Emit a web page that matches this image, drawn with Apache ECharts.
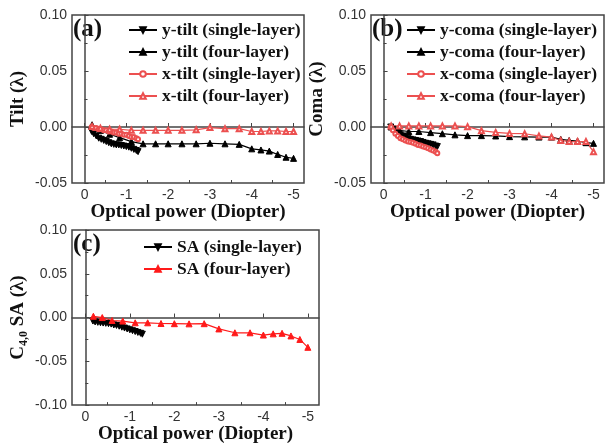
<!DOCTYPE html>
<html>
<head>
<meta charset="utf-8">
<script src="https://cdn.jsdelivr.net/npm/echarts@6/dist/echarts.min.js"></script>
<style>
  html, body { margin: 0; padding: 0; background: #fff; }
  #chart { width: 610px; height: 445px; }
</style>
</head>
<body>
<div id="chart"></div>
<script>
// optical power steps (diopter)
var xFour = [-0.18, -0.38, -0.6, -0.84, -1.12, -1.4, -1.7, -2.0, -2.33, -2.67, -3.0, -3.36, -3.7, -4.0, -4.22, -4.42, -4.62, -4.82, -5.0];
var xSingle = [-0.17, -0.22, -0.28, -0.34, -0.40, -0.46, -0.52, -0.58, -0.64, -0.70, -0.76, -0.82, -0.88, -0.94, -1.00, -1.06, -1.12, -1.18, -1.24, -1.28];

// (a) tilt
var yTiltSingle = [-0.004, -0.006, -0.008, -0.010, -0.011, -0.012, -0.013, -0.014, -0.015, -0.0155, -0.016, -0.016, -0.0165, -0.017, -0.0175, -0.018, -0.019, -0.020, -0.021, -0.022];
var yTiltFour = [0.002, -0.003, -0.0065, -0.0095, -0.013, -0.015, -0.015, -0.015, -0.015, -0.015, -0.0145, -0.015, -0.0155, -0.0195, -0.0205, -0.0215, -0.0245, -0.027, -0.028];
var xTiltSingle = [0.000, -0.001, -0.001, -0.002, -0.002, -0.003, -0.003, -0.004, -0.004, -0.005, -0.005, -0.006, -0.006, -0.007, -0.007, -0.008, -0.009, -0.009, -0.010, -0.011];
var xTiltFour = [0.0005, -0.001, -0.002, -0.002, -0.003, -0.003, -0.003, -0.003, -0.003, -0.0025, -0.0005, -0.0015, -0.0015, -0.004, -0.004, -0.0035, -0.0035, -0.004, -0.004];

// (b) coma
var yComaSingle = [0.000, -0.002, -0.004, -0.005, -0.007, -0.008, -0.009, -0.010, -0.011, -0.0115, -0.012, -0.0125, -0.013, -0.0138, -0.0145, -0.015, -0.0155, -0.016, -0.017, -0.0175];
var yComaFour = [0.000, -0.003, -0.004, -0.004, -0.005, -0.006, -0.007, -0.0077, -0.0077, -0.008, -0.0086, -0.0088, -0.009, -0.009, -0.011, -0.012, -0.0125, -0.014, -0.0146];
var xComaSingle = [0.000, -0.003, -0.006, -0.008, -0.010, -0.011, -0.012, -0.013, -0.0135, -0.014, -0.015, -0.016, -0.0165, -0.0175, -0.018, -0.019, -0.020, -0.021, -0.022, -0.0235];
var xComaFour = [0.001, 0.001, 0.001, 0.001, 0.001, 0.001, 0.001, 0.0003, -0.0033, -0.0048, -0.0057, -0.006, -0.008, -0.009, -0.012, -0.013, -0.013, -0.013, -0.022];

// (c) spherical aberration
var saSingle = [-0.004, -0.005, -0.0055, -0.006, -0.0063, -0.0066, -0.007, -0.0075, -0.0085, -0.009, -0.0099, -0.011, -0.012, -0.013, -0.014, -0.015, -0.016, -0.017, -0.018, -0.019];
var saFour = [0.0015, 0.0, -0.0034, -0.004, -0.006, -0.006, -0.0068, -0.007, -0.0072, -0.007, -0.013, -0.0174, -0.0174, -0.020, -0.0186, -0.018, -0.021, -0.025, -0.034];

var xMajor = [0, -1, -2, -3, -4, -5];
var xMinor = [-0.5, -1.5, -2.5, -3.5, -4.5];

var serif = '"Liberation Serif", "Times New Roman", serif';
var sans = '"Liberation Sans", Arial, sans-serif';
var axisColor = '#444';
var red = '#ec5050';

function pairs(xs, ys) {
    return xs.map(function (x, i) { return [x, ys[i]]; });
}

function grid(left, top, width, height) {
    return { left: left, top: top, width: width, height: height, show: true, borderColor: axisColor, borderWidth: 1.5 };
}

function xMain(gi, gap) {
    return {
        type: 'value', gridIndex: gi, inverse: true, min: -5.25, max: 0.3,
        name: 'Optical power (Diopter)', nameLocation: 'middle', nameGap: gap,
        nameTextStyle: { fontFamily: serif, fontWeight: 'bold', fontSize: 19, color: '#111' },
        axisLine: { lineStyle: { color: axisColor, width: 1.5 } },
        axisTick: { inside: true, length: 4, customValues: xMajor, lineStyle: { color: axisColor } },
        axisLabel: { customValues: xMajor, fontFamily: sans, fontSize: 14, color: '#333', margin: 5,
            formatter: function (v) { return v === 0 ? '0' : String(v); } },
        splitLine: { show: false }
    };
}

function xMinorAxis(gi) {
    return {
        type: 'value', gridIndex: gi, inverse: true, min: -5.25, max: 0.3, position: 'bottom',
        axisLine: { show: false },
        axisTick: { inside: true, length: 3, customValues: xMinor, lineStyle: { color: axisColor } },
        axisLabel: { show: false },
        splitLine: { show: false }
    };
}

function yAxis(gi, min, name, gap) {
    return {
        type: 'value', gridIndex: gi, min: min, max: 0.10, interval: 0.05,
        name: name, nameLocation: 'middle', nameGap: gap,
        nameTextStyle: {
            fontFamily: serif, fontWeight: 'bold', fontSize: 19, color: '#111',
            rich: {
                m: { fontFamily: serif, fontWeight: 'bold', fontSize: 19, color: '#111', lineHeight: 24 },
                s: { fontFamily: serif, fontWeight: 'bold', fontSize: 12, color: '#111', lineHeight: 24, verticalAlign: 'bottom' }
            }
        },
        axisLine: { lineStyle: { color: axisColor, width: 1.5 } },
        axisTick: { inside: true, length: 4, lineStyle: { color: axisColor } },
        minorTick: { show: true, splitNumber: 2, length: 3, lineStyle: { color: axisColor } },
        axisLabel: { fontFamily: sans, fontSize: 14, color: '#333', margin: 5,
            formatter: function (v) { return v.toFixed(2); } },
        splitLine: { show: false }
    };
}

function line(name, xi, yi, xs, ys, color, symbol, down, size) {
    return {
        name: name, type: 'line', xAxisIndex: xi, yAxisIndex: yi,
        data: pairs(xs, ys),
        symbol: symbol, symbolSize: size || 6, symbolRotate: down ? 180 : 0,
        lineStyle: { color: color, width: 1.2 },
        itemStyle: { color: color, borderColor: color, borderWidth: 1 },
        animation: false
    };
}

function legend(names, left, top, gap) {
    return {
        data: names, orient: 'vertical', left: left, top: top, itemGap: gap,
        itemWidth: 28, itemHeight: 7, padding: 0,
        textStyle: { fontFamily: serif, fontWeight: 'bold', fontSize: 17.5, color: '#111' }
    };
}

var chart = echarts.init(document.getElementById('chart'));
chart.setOption({
    backgroundColor: '#fff',
    animation: false,
    grid: [grid(72, 15, 232, 168), grid(371, 15, 233, 168), grid(72, 230, 247, 176)],
    xAxis: [xMain(0, 19), xMinorAxis(0), xMain(1, 19), xMinorAxis(1), xMain(2, 16), xMinorAxis(2)],
    yAxis: [
        yAxis(0, -0.05, 'Tilt (λ)', 44),
        yAxis(1, -0.05, 'Coma (λ)', 44),
        yAxis(2, -0.10, '{m|C}{s|4,0}{m| SA (λ)}', 42)
    ],
    legend: [
        legend(['y-tilt (single-layer)', 'y-tilt (four-layer)', 'x-tilt (single-layer)', 'x-tilt (four-layer)'], 128, 21, 4),
        legend(['y-coma (single-layer)', 'y-coma (four-layer)', 'x-coma (single-layer)', 'x-coma (four-layer)'], 406, 21, 4),
        legend(['SA (single-layer)', 'SA (four-layer)'], 143, 238, 4)
    ],
    series: [
        line('y-tilt (single-layer)', 0, 0, xSingle, yTiltSingle, '#000', 'triangle', true),
        line('y-tilt (four-layer)', 0, 0, xFour, yTiltFour, '#000', 'triangle', false),
        line('x-tilt (single-layer)', 0, 0, xSingle, xTiltSingle, red, 'emptyCircle', false, 4),
        line('x-tilt (four-layer)', 0, 0, xFour, xTiltFour, red, 'emptyTriangle', false, 5),
        line('y-coma (single-layer)', 2, 1, xSingle, yComaSingle, '#000', 'triangle', true),
        line('y-coma (four-layer)', 2, 1, xFour, yComaFour, '#000', 'triangle', false),
        line('x-coma (single-layer)', 2, 1, xSingle, xComaSingle, red, 'emptyCircle', false, 4),
        line('x-coma (four-layer)', 2, 1, xFour, xComaFour, red, 'emptyTriangle', false, 5),
        line('SA (single-layer)', 4, 2, xSingle, saSingle, '#000', 'triangle', true),
        line('SA (four-layer)', 4, 2, xFour, saFour, '#ff1a1a', 'triangle', false)
    ],
    graphic: [
        { type: 'text', left: 73, top: 17, style: { text: '(a)', font: 'bold 25px ' + serif, fill: '#111' } },
        { type: 'text', left: 372, top: 17, style: { text: '(b)', font: 'bold 25px ' + serif, fill: '#111' } },
        { type: 'text', left: 73, top: 232, style: { text: '(c)', font: 'bold 25px ' + serif, fill: '#111' } }
    ]
});
</script>
</body>
</html>
